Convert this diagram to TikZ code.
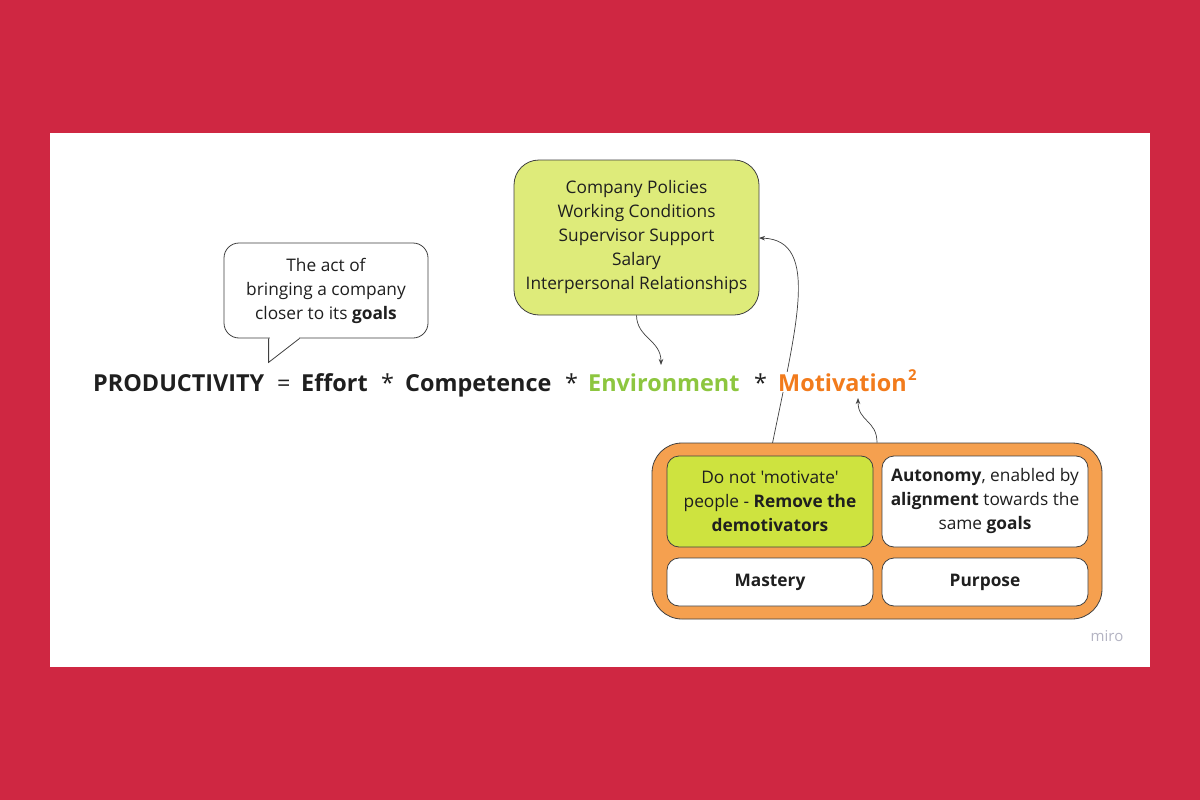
\documentclass[tikz,border=0pt]{standalone}
\usepackage{fontspec}
\setmainfont{Open Sans}[Ligatures=TeXOff]
\usetikzlibrary{arrows.meta}
\definecolor{bgred}{HTML}{CF2742}
\definecolor{lgreen}{HTML}{DEEB7A}
\definecolor{igreen}{HTML}{CEE33F}
\definecolor{ofill}{HTML}{F5A04F}
\definecolor{gtext}{HTML}{8DC63F}
\definecolor{otext}{HTML}{F27B1C}
\definecolor{dark}{HTML}{1F1F1F}
\definecolor{linec}{HTML}{404040}
\definecolor{mirogray}{HTML}{B4B4C3}
\newcommand\sq{\char"27\relax}
\pgfdeclarelayer{bg}
\pgfdeclarelayer{lines}
\pgfsetlayers{bg,lines,main}
\tikzset{
  boxtext/.style={font=\fontsize{17.3}{24}\selectfont, text=dark, align=center},
  frm/.style={font=\fontsize{23.4}{28}\selectfont, text=dark, anchor=base west, inner sep=1pt},
  rbox/.style={draw=linec, line width=0.8pt, rounded corners=#1, inner sep=0pt},
  conn/.style={draw=linec, line width=0.7pt, -{Stealth[length=6pt,width=4.5pt]}},
}
\begin{document}
\begin{tikzpicture}[x=1pt,y=-1pt]
\useasboundingbox (0,0) rectangle (1200,800);
\begin{pgfonlayer}{bg}
  \fill[bgred] (0,0) rectangle (1200,800);
  \fill[white] (50,133) rectangle (1150,667);
\end{pgfonlayer}

% environment factors box
\node[rbox=25, fill=lgreen, boxtext, minimum width=245pt, minimum height=155pt] (env) at (636.5,237.5)
  {Company Policies\\Working Conditions\\Supervisor Support\\Salary\\Interpersonal Relationships};

% speech bubble
\node[rbox=15, fill=white, boxtext, minimum width=204pt, minimum height=95pt] (bubble) at (326,290.5)
  {The act of\\bringing a company\\closer to its \textbf{goals}};
\fill[white] ([xshift=46pt,yshift=2pt]bubble.south west) rectangle ([xshift=75pt,yshift=-2pt]bubble.south west);
\draw[linec, line width=0.8pt] ([xshift=45pt]bubble.south west) -- ++(0,24) coordinate (tailtip) -- ([xshift=76pt]bubble.south west);

% formula
\node[frm] (prod) at (92,391) {\textbf{PRODUCTIVITY}};
\node[frm] (eq) at (276,391) {=};
\node[frm] (effort) at (300,391) {\textbf{Effort}};
\node[frm] (st1) at (380,391) {*};
\node[frm] (comp) at (404,391) {\textbf{Competence}};
\node[frm] (st2) at (564,391) {*};
\node[frm, text=gtext] (envt) at (587,391) {\textbf{Environment}};
\node[frm] (st3) at (753,391) {*};
\node[frm, text=otext, fill=white] (mot) at (777,391) {\textbf{Motivation}};
\node[frm, text=otext, font=\fontsize{15}{16}\selectfont\bfseries] (sup) at (907,380) {2};

% motivation container
\node[rbox=30, fill=ofill, minimum width=450pt, minimum height=176pt] (cont) at (877,531) {};
\node[rbox=12, fill=igreen, boxtext, minimum width=206pt, minimum height=91pt] (dnm) at (770,501.5)
  {Do not \sq motivate\sq\\people - \textbf{Remove the}\\\textbf{demotivators}};
\node[rbox=12, fill=white, boxtext, minimum width=206pt, minimum height=91pt] (auto) at (985,501.5)
  {\textbf{Autonomy}, enabled by\\\textbf{alignment} towards the\\same \textbf{goals}};
\node[rbox=12, fill=white, boxtext, minimum width=206pt, minimum height=48pt] (mast) at (770,582)
  {\textbf{Mastery}};
\node[rbox=12, fill=white, boxtext, minimum width=206pt, minimum height=48pt] (purp) at (985,582)
  {\textbf{Purpose}};

\node[font=\fontsize{15}{17}\selectfont, text=mirogray] (miro) at (1107,636) {miro};

% connectors
\coordinate (envtip) at (661,365);
\coordinate (mottip) at (858,398);
\coordinate (envin) at (759,238);
\begin{pgfonlayer}{lines}
  \draw[conn] (env.south) .. controls (637,338) and (661,340) .. (envtip);
  \draw[conn] (dnm.north) .. controls (795,330) and (822,240) .. (envin);
  \draw[conn] (cont.north) .. controls (877,420) and (858,422) .. (mottip);
\end{pgfonlayer}
\end{tikzpicture}
\end{document}
